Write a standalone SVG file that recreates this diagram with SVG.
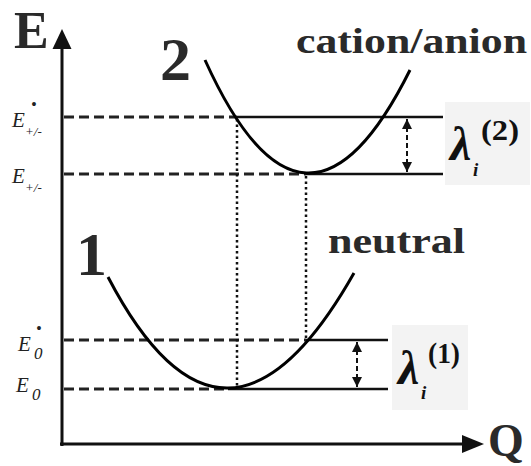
<svg xmlns="http://www.w3.org/2000/svg" width="531" height="466" viewBox="0 0 531 466">
<style>
.bg{fill:#ffffff}
.axis{stroke:#111;stroke-width:3;fill:none}
.dash{stroke:#222;stroke-width:3;stroke-dasharray:10 5;fill:none}
.solid{stroke:#111;stroke-width:2.5;fill:none}
.dot{stroke:#111;stroke-width:2.5;stroke-dasharray:2.5 3;fill:none}
.curve{stroke:#000;stroke-width:3;fill:none}
.darr{stroke:#111;stroke-width:2;stroke-dasharray:5 3;fill:none}
.big{font-weight:bold;fill:#2a2a2a}
.lbl{font-style:italic;fill:#222}
.lam{fill:#111}
.box{fill:#f3f3f3}
</style>
<defs>
<marker id="ah" viewBox="0 0 10 10" refX="10" refY="5" markerWidth="10" markerHeight="10" markerUnits="userSpaceOnUse" orient="auto-start-reverse">
<path d="M0,0 L10,5 L0,10 Z" fill="#111"/>
</marker>
</defs>
<rect class="bg" x="0" y="0" width="531" height="466"/>
<g font-family="'Liberation Serif', 'Times New Roman', 'DejaVu Serif', serif">
<g id="axes">
<line class="axis" x1="62" y1="446" x2="62" y2="47"/>
<polygon points="62,29 52.5,49 71.5,49" fill="#111"/>
<line class="axis" x1="60" y1="444" x2="464" y2="444"/>
<polygon points="484,444 462,435 462,453" fill="#111"/>
<text class="big" x="14" y="48" font-size="52">E</text>
<text class="big" x="488" y="456" font-size="46">Q</text>
</g>

<g id="levels">
<line class="dash" x1="64" y1="117" x2="237" y2="117"/>
<line class="solid" x1="237" y1="117" x2="443" y2="117"/>
<line class="dash" x1="64" y1="174" x2="306" y2="174"/>
<line class="solid" x1="306" y1="174" x2="443" y2="174"/>
<line class="dash" x1="64" y1="340" x2="306" y2="340"/>
<line class="solid" x1="306" y1="340" x2="388" y2="340"/>
<line class="dash" x1="64" y1="389" x2="228" y2="389"/>
<line class="solid" x1="228" y1="389" x2="388" y2="389"/>
</g>

<g id="connectors">
<line class="dot" x1="237" y1="119" x2="237" y2="388"/>
<line class="dot" x1="306" y1="176" x2="306" y2="339"/>
<line class="darr" x1="407" y1="119" x2="407" y2="172" marker-start="url(#ah)" marker-end="url(#ah)"/>
<line class="darr" x1="357" y1="342" x2="357" y2="387" marker-start="url(#ah)" marker-end="url(#ah)"/>
</g>

<g id="curve2">
<path class="curve" d="M205,60 Q305,281 410,70"/>
<text class="big" x="160" y="80" font-size="62">2</text>
<text class="big" x="296" y="53" font-size="36" textLength="231" lengthAdjust="spacingAndGlyphs">cation/anion</text>
</g>

<g id="curve1">
<path class="curve" d="M108,277 Q225,501 354,273"/>
<text class="big" x="76" y="275" font-size="62">1</text>
<text class="big" x="328" y="253" font-size="36" textLength="137" lengthAdjust="spacingAndGlyphs">neutral</text>
</g>

<g id="lambda2">
<rect class="box" x="445" y="102" width="85" height="83"/>
<text class="lam" x="450" y="160" font-size="48" font-style="italic" font-weight="bold">λ</text>
<text class="lam" x="473" y="176" font-size="19" font-style="italic" font-weight="bold">i</text>
<text class="lam" x="481" y="140" font-size="30" font-weight="bold" textLength="38" lengthAdjust="spacingAndGlyphs">(2)</text>
</g>

<g id="lambda1">
<rect class="box" x="392" y="325" width="76" height="85"/>
<text class="lam" x="398" y="384" font-size="48" font-style="italic" font-weight="bold">λ</text>
<text class="lam" x="421" y="399" font-size="19" font-style="italic" font-weight="bold">i</text>
<text class="lam" x="428" y="363" font-size="30" font-weight="bold" textLength="32" lengthAdjust="spacingAndGlyphs">(1)</text>
</g>

<g id="ylabels">
<text class="lbl" x="12" y="127" font-size="21">E</text>
<text class="lbl" x="31" y="110" font-size="16" font-style="normal">•</text>
<text class="lbl" x="25" y="136" font-size="13">+/-</text>
<text class="lbl" x="12" y="183" font-size="21">E</text>
<text class="lbl" x="25" y="192" font-size="13">+/-</text>
<text class="lbl" x="18" y="351" font-size="21">E</text>
<text class="lbl" x="36" y="334" font-size="16" font-style="normal">•</text>
<text class="lbl" x="34" y="359" font-size="17" font-style="normal">0</text>
<text class="lbl" x="16" y="392" font-size="21">E</text>
<text class="lbl" x="32" y="400" font-size="17" font-style="normal">0</text>
</g>
</g>
</svg>
